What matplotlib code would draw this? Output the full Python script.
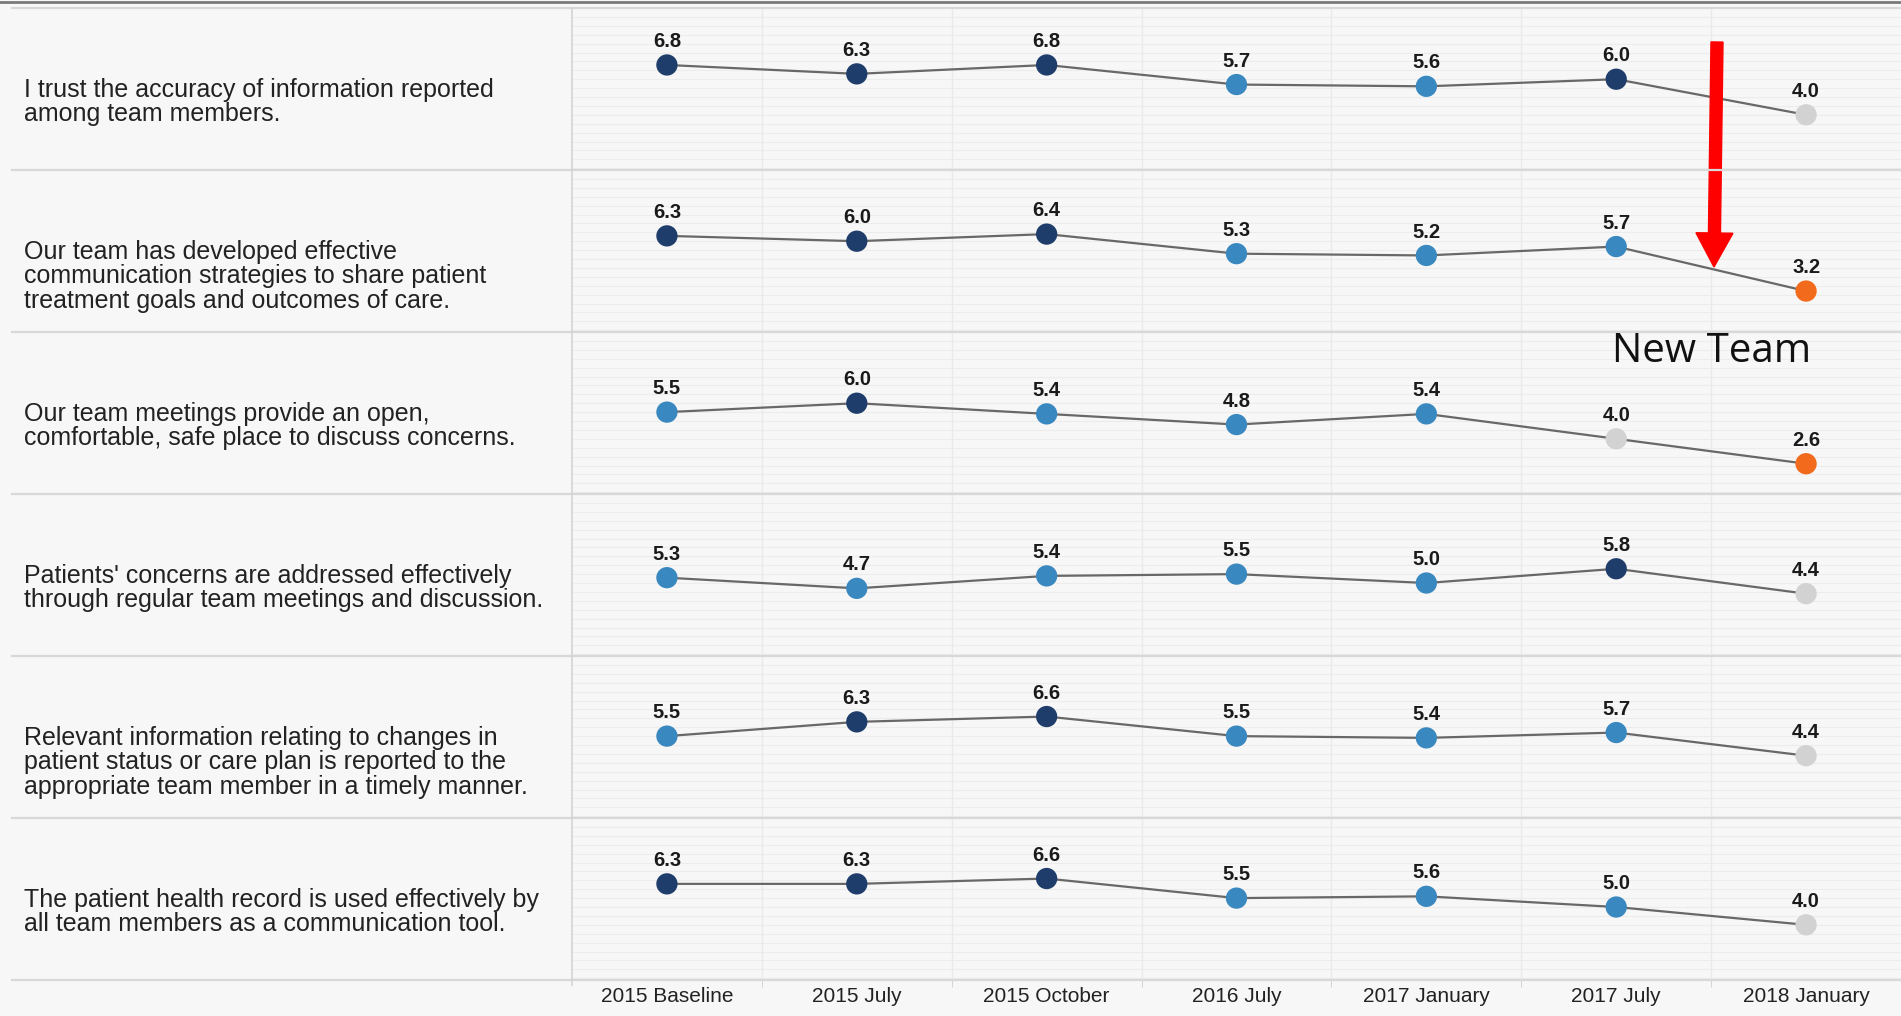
import numpy as np
import matplotlib
matplotlib.use("Agg")
import matplotlib.pyplot as plt
from matplotlib.lines import Line2D
from matplotlib.patches import FancyArrow
from matplotlib.transforms import IdentityTransform

# ===== data =====
periods = ["2015 Baseline", "2015 July", "2015 October", "2016 July",
           "2017 January", "2017 July", "2018 January"]

questions = [
    "I trust the accuracy of information reported\namong team members.",
    "Our team has developed effective\ncommunication strategies to share patient\ntreatment goals and outcomes of care.",
    "Our team meetings provide an open,\ncomfortable, safe place to discuss concerns.",
    "Patients' concerns are addressed effectively\nthrough regular team meetings and discussion.",
    "Relevant information relating to changes in\npatient status or care plan is reported to the\nappropriate team member in a timely manner.",
    "The patient health record is used effectively by\nall team members as a communication tool.",
]

trust_info = [6.8, 6.3, 6.8, 5.7, 5.6, 6.0, 4.0]
comm_strategies = [6.3, 6.0, 6.4, 5.3, 5.2, 5.7, 3.2]
team_meetings = [5.5, 6.0, 5.4, 4.8, 5.4, 4.0, 2.6]
patient_concerns = [5.3, 4.7, 5.4, 5.5, 5.0, 5.8, 4.4]
relevant_info = [5.5, 6.3, 6.6, 5.5, 5.4, 5.7, 4.4]
health_record = [6.3, 6.3, 6.6, 5.5, 5.6, 5.0, 4.0]

series = [trust_info, comm_strategies, team_meetings,
          patient_concerns, relevant_info, health_record]

# ===== style =====
BG = "#f7f7f7"
NAVY = "#1f3d6b"
BLUE = "#3a88c0"
GREY = "#d2d2d2"
ORANGE = "#f26a1b"
NARROW = ["Liberation Sans Narrow", "Liberation Sans", "DejaVu Sans"]


def dot_color(v):
    if v >= 5.8:
        return NAVY
    if v >= 4.5:
        return BLUE
    if v >= 3.5:
        return GREY
    return ORANGE


W, H = 1901, 1016
fig = plt.figure(figsize=(W / 100, H / 100), dpi=100, facecolor=BG)

x0 = 572          # left edge of plot area (px)
row_top = 8       # px from top
row_h = 162
x = np.arange(len(periods))

for i, vals in enumerate(series):
    top = row_top + i * row_h
    ax = fig.add_axes([x0 / W, 1 - (top + row_h) / H, 1 - x0 / W, row_h / H])
    ax.set_facecolor("none")
    ax.set_xlim(-0.5, len(periods) - 0.5)
    ax.set_ylim(0.9, 10.0)

    # faint grid
    for yy in np.arange(1.0, 10.0, 0.5):
        ax.axhline(yy, color="#ececec", lw=0.8, zorder=0)
    for xx in np.arange(0.5, len(periods) - 0.5, 1):
        ax.axvline(xx, color="#eaeaea", lw=1.0, zorder=0)

    ax.plot(x, vals, color="#686868", lw=1.6, zorder=2)
    ax.scatter(x, vals, s=235, c=[dot_color(v) for v in vals],
               zorder=3, linewidths=0)
    for xi, v in zip(x, vals):
        ax.annotate(f"{v:.1f}", (xi, v), xytext=(0, 10),
                    textcoords="offset points", ha="center", va="bottom",
                    fontsize=14.5, fontweight="bold", color="#1a1a1a",
                    family=NARROW)

    for s in ax.spines.values():
        s.set_visible(False)
    ax.set_yticks([])
    if i == len(series) - 1:
        ax.set_xticks(x)
        ax.set_xticklabels(periods, family=NARROW, fontsize=15, color="#222222")
        ax.tick_params(axis="x", length=0, pad=5)
        ax.set_xticks(np.arange(0.5, len(periods) - 0.5, 1), minor=True)
        ax.tick_params(axis="x", which="minor", length=5, color="#cccccc")
    else:
        ax.set_xticks([])

    # question text
    fig.text(24 / W, 1 - (top + 70) / H, questions[i], ha="left", va="top",
             fontsize=18, family="Liberation Sans", color="#222222",
             linespacing=1.02)

# row separators
for i in range(len(series) + 1):
    yy = 1 - (row_top + i * row_h) / H
    fig.add_artist(Line2D([12 / W, 1], [yy, yy], color="#d8d8d8", lw=1.6))

# divider between labels and plot
fig.add_artist(Line2D([x0 / W, x0 / W], [1 - row_top / H, 1 - 985 / H],
                      color="#d4d4d4", lw=1.2))

# top border
fig.add_artist(Line2D([0, 1], [1 - 2 / H, 1 - 2 / H], color="#7a7a7a", lw=2))

# annotation: arrow and label
fig.add_artist(FancyArrow(1717, H - 42, -3, -225, width=12, head_width=37,
                          head_length=34, length_includes_head=True,
                          color="#ff0000", transform=IdentityTransform()))
fig.text(1712 / W, 1 - 352 / H, "New Team", ha="center", va="center",
         fontsize=29, family="Open Sans", color="#111111")

fig.savefig("out.png", dpi=100, facecolor=BG)
